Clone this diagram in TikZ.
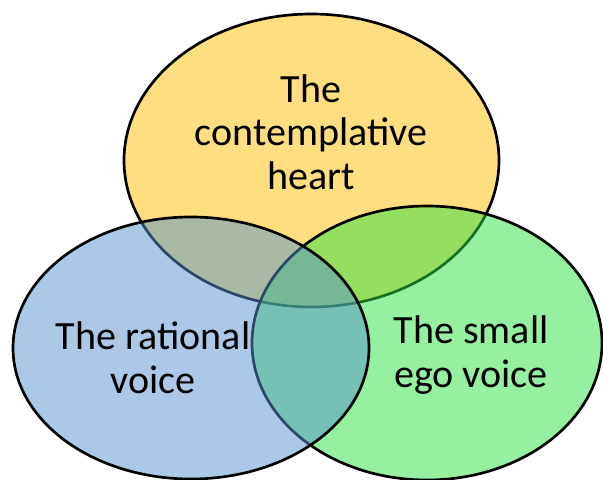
\documentclass[tikz,border=0pt]{standalone}
\usepackage{fontspec}
\setmainfont{Carlito}
\definecolor{heartfill}{RGB}{255,222,128}
\definecolor{rationalfill}{RGB}{87,147,205}
\definecolor{egofill}{RGB}{43,225,65}
\tikzset{
	setshape/.style={line width=1.9pt, draw=black},
	setlabel/.style={align=center, font=\fontsize{28.5}{31}\selectfont}
}
\begin{document}
\begin{tikzpicture}[x=0.025cm, y=0.025cm]
	\useasboundingbox (0,0) rectangle (603,479);
	% the three sets, later ones laid over the earlier ones
	\draw[setshape, fill=heartfill] (311.5,318.5) ellipse [x radius=187.5, y radius=146.5];
	\draw[setshape, fill=egofill, fill opacity=0.5] (427,136) ellipse [x radius=175, y radius=137];
	\draw[setshape, fill=rationalfill, fill opacity=0.5] (191,131) ellipse [x radius=178, y radius=131];
	% labels
	\node[setlabel] (heart) at (311,347) {The\\contemplative\\heart};
	\node[setlabel] (rational) at (153,121) {The rational\\voice};
	\node[setlabel] (ego) at (471,124) {The small\\ego voice};
\end{tikzpicture}
\end{document}
